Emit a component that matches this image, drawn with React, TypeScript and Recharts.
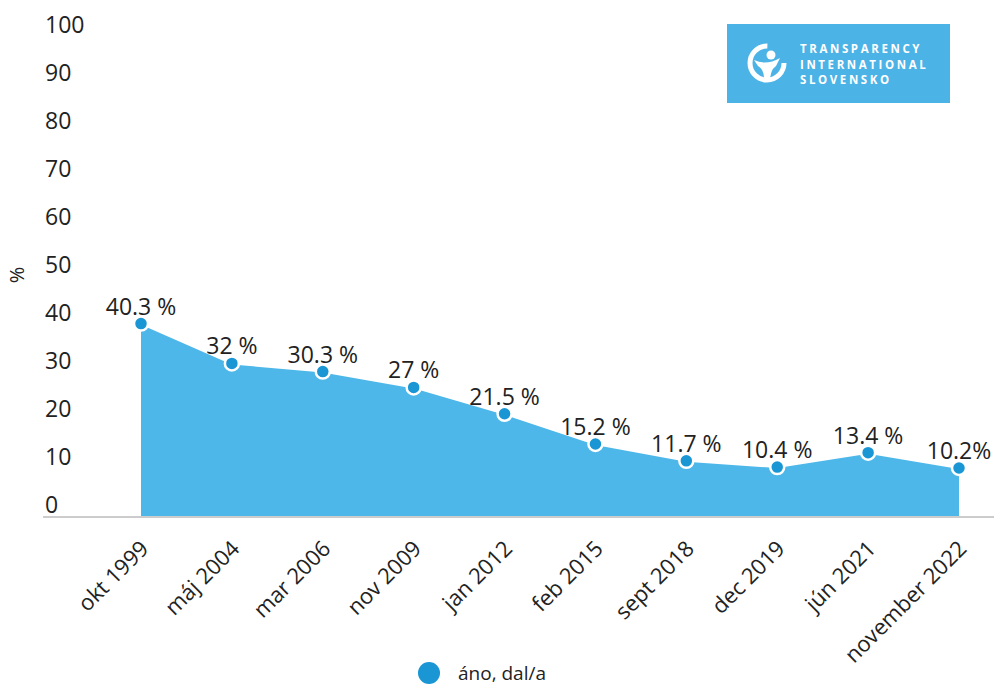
import { Area, AreaChart, Customized, Legend, XAxis, YAxis } from "recharts";

const categories = [
  "okt 1999",
  "máj 2004",
  "mar 2006",
  "nov 2009",
  "jan 2012",
  "feb 2015",
  "sept 2018",
  "dec 2019",
  "jún 2021",
  "november 2022",
];
const values = [40.3, 32, 30.3, 27, 21.5, 15.2, 11.7, 10.4, 13.4, 10.2];
const valueLabels = [
  "40.3 %",
  "32 %",
  "30.3 %",
  "27 %",
  "21.5 %",
  "15.2 %",
  "11.7 %",
  "10.4 %",
  "13.4 %",
  "10.2%",
];
const yTicks = [0, 10, 20, 30, 40, 50, 60, 70, 80, 90, 100];
const seriesName = "áno, dal/a";
const logoLines = ["TRANSPARENCY", "INTERNATIONAL", "SLOVENSKO"];

const data = categories.map((name, i) => ({
  name,
  value: values[i],
  label: valueLabels[i],
}));

const FONT = "'Open Sans', 'Noto Sans', sans-serif";
const TEXT = "#222222";
const AREA = "#4DB7E9";
const DOT = "#1A96D4";
const LEGEND_H = 26;
const X_AXIS_H = 30;

const YTick = (props: any) => {
  const { y, payload } = props;
  return (
    <text x={45} y={y - 12} dy="0.35em" fontSize={23} fill={TEXT} fontFamily={FONT}>
      {payload.value}
    </text>
  );
};

const XTick = (props: any) => {
  const { x, y, payload } = props;
  return (
    <g transform={`translate(${x + 9},${y + 25})`}>
      <text textAnchor="end" transform="rotate(-45)" fontSize={22} fill={TEXT} fontFamily={FONT}>
        {payload.value}
      </text>
    </g>
  );
};

const PointLabel = (props: any) => {
  const { x, y, index } = props;
  return (
    <text x={x} y={y - 9} textAnchor="middle" fontSize={23} fill={TEXT} fontFamily={FONT}>
      {valueLabels[index]}
    </text>
  );
};

const Logo = () => (
  <g>
    <rect x={727} y={24} width={223} height={79} fill="#4CB3E6" />
    <circle cx={767} cy={63} r={17} fill="none" stroke="#fff" strokeWidth={5} strokeDasharray="80 27" />
    <circle cx={771} cy={55} r={4.5} fill="#fff" />
    <path d="M754 60 Q766 66 780 58 L776 66 Q770 70 770 82 L764 82 Q765 70 758 66 Z" fill="#fff" />
    {logoLines.map((t, i) => (
      <text
        key={t}
        x={800}
        y={53 + i * 15.5}
        fontSize={11.5}
        letterSpacing={2.6}
        fontWeight={700}
        fill="#fff"
        fontFamily={FONT}
      >
        {t}
      </text>
    ))}
    <text
      transform="translate(24,275) rotate(-90)"
      textAnchor="middle"
      fontSize={20}
      fill={TEXT}
      fontFamily={FONT}
    >
      %
    </text>
  </g>
);

const LegendContent = () => (
  <div
    style={{
      display: "flex",
      justifyContent: "center",
      alignItems: "center",
      height: LEGEND_H,
      fontFamily: FONT,
      fontSize: 19,
      color: TEXT,
      paddingRight: 30,
    }}
  >
    <svg width={22} height={22} style={{ marginRight: 18 }}>
      <circle cx={11} cy={11} r={11} fill={DOT} />
    </svg>
    {seriesName}
  </div>
);

export default function App() {
  return (
    <div style={{ position: "absolute", left: 0, top: 0, background: "#fff" }}>
      <AreaChart
        width={994}
        height={686}
        data={data}
        margin={{ top: 37, right: 0, bottom: 169 - LEGEND_H - X_AXIS_H, left: 0 }}
      >
        <XAxis
          dataKey="name"
          interval={0}
          height={X_AXIS_H}
          padding={{ left: 98, right: 35 }}
          tickLine={false}
          axisLine={{ stroke: "#cccccc", strokeWidth: 2 }}
          tick={<XTick />}
        />
        <YAxis
          domain={[0, 100]}
          ticks={yTicks}
          width={43}
          axisLine={false}
          tickLine={false}
          tick={<YTick />}
        />
        <Legend
          verticalAlign="bottom"
          align="center"
          layout="horizontal"
          wrapperStyle={{ top: 660, bottom: "auto", left: 0, width: 994 }}
          content={<LegendContent />}
        />
        <Area
          type="linear"
          dataKey="value"
          name={seriesName}
          stroke="#ffffff"
          strokeWidth={2}
          fill={AREA}
          fillOpacity={1}
          isAnimationActive={false}
          dot={{ r: 7, fill: DOT, stroke: "#ffffff", strokeWidth: 2.5, fillOpacity: 1 }}
          activeDot={false}
          label={<PointLabel />}
        />
        <Customized component={<Logo />} />
      </AreaChart>
    </div>
  );
}
